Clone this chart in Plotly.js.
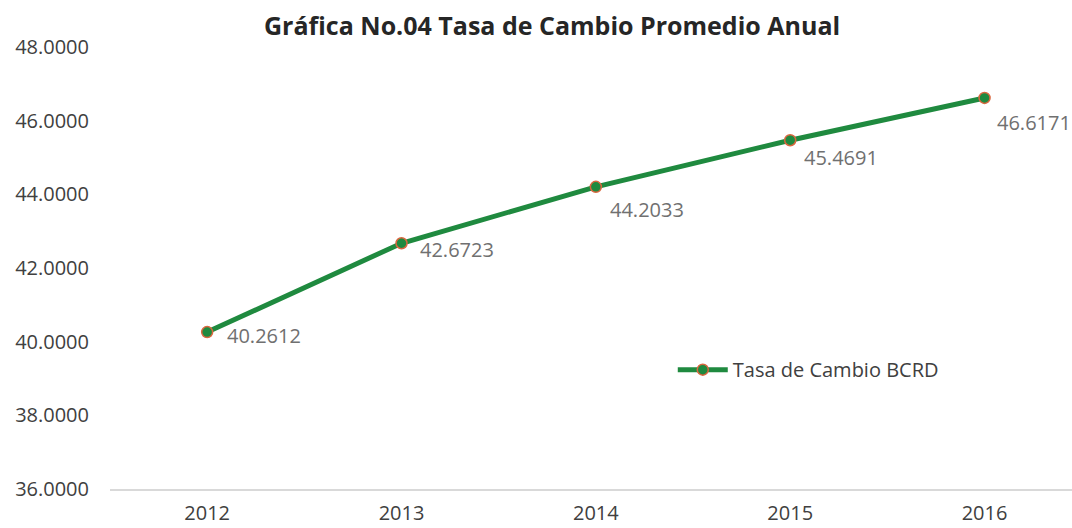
<!DOCTYPE html>
<html>
<head>
<meta charset="utf-8">
<script src="https://cdn.plot.ly/plotly-3.0.1.min.js"></script>
<style>
  html, body { margin: 0; padding: 0; background: #fff; }
  #chart { width: 1072px; height: 528px; }
</style>
</head>
<body>
<div id="chart"></div>
<script>
// Tasa de cambio promedio anual (BCRD)
const years = ['2012', '2013', '2014', '2015', '2016'];
const rates = [40.2612, 42.6723, 44.2033, 45.4691, 46.6171];
const yTicks = [36, 38, 40, 42, 44, 46, 48];

const GREEN = '#1f8a3f';
const FONT = '"Open Sans", "Noto Sans", sans-serif';

// label offsets per point (pixels), like Excel's data label placement
const labelDx = [18, 16, 12, 12, 10];
const labelDy = [-3, -6, -23, -17, -25];

const trace = {
  x: years,
  y: rates,
  type: 'scatter',
  mode: 'lines+markers',
  name: 'Tasa de Cambio BCRD',
  line: { color: GREEN, width: 5 },
  marker: { color: GREEN, size: 11, line: { color: '#d9673f', width: 1.5 } },
  hoverinfo: 'x+y',
};

// category axis: annotation x is the category index
const annotations = years.map((yr, i) => ({
  x: i, y: rates[i],
  xref: 'x', yref: 'y',
  text: rates[i].toFixed(4),
  showarrow: false,
  xanchor: 'left', yanchor: 'middle',
  xshift: labelDx[i], yshift: labelDy[i],
  font: { family: FONT, size: 20, color: '#707070' },
}));

const layout = {
  width: 1072, height: 528,
  paper_bgcolor: '#fff', plot_bgcolor: '#fff',
  margin: { t: 47, b: 39, l: 110, r: 0 },
  title: {
    text: '<b>Gráfica No.04 Tasa de Cambio Promedio Anual</b>',
    font: { family: FONT, size: 25, color: '#262626' },
    x: 0.515, xanchor: 'center', y: 0.95, yanchor: 'middle',
  },
  xaxis: {
    type: 'category',
    range: [-0.5, 4.45],
    showgrid: false, zeroline: false,
    showline: true, linecolor: '#d9d9d9', linewidth: 1.5,
    ticks: '',
    ticklabelstandoff: 5,
    tickfont: { family: FONT, size: 20, color: '#404040' },
    fixedrange: true,
  },
  yaxis: {
    range: [36, 48],
    tickvals: yTicks,
    ticktext: yTicks.map(v => v.toFixed(4)),
    showgrid: false, zeroline: false, showline: false,
    ticks: '',
    ticklabelstandoff: 20,
    tickfont: { family: FONT, size: 20, color: '#404040' },
    fixedrange: true,
  },
  showlegend: true,
  legend: {
    x: 0.585, y: 0.27, xanchor: 'left', yanchor: 'middle',
    bgcolor: 'rgba(0,0,0,0)',
    font: { family: FONT, size: 20, color: '#404040' },
    itemwidth: 50,
  },
  annotations: annotations,
};

Plotly.newPlot('chart', [trace], layout, { displayModeBar: false, staticPlot: true });
</script>
</body>
</html>
